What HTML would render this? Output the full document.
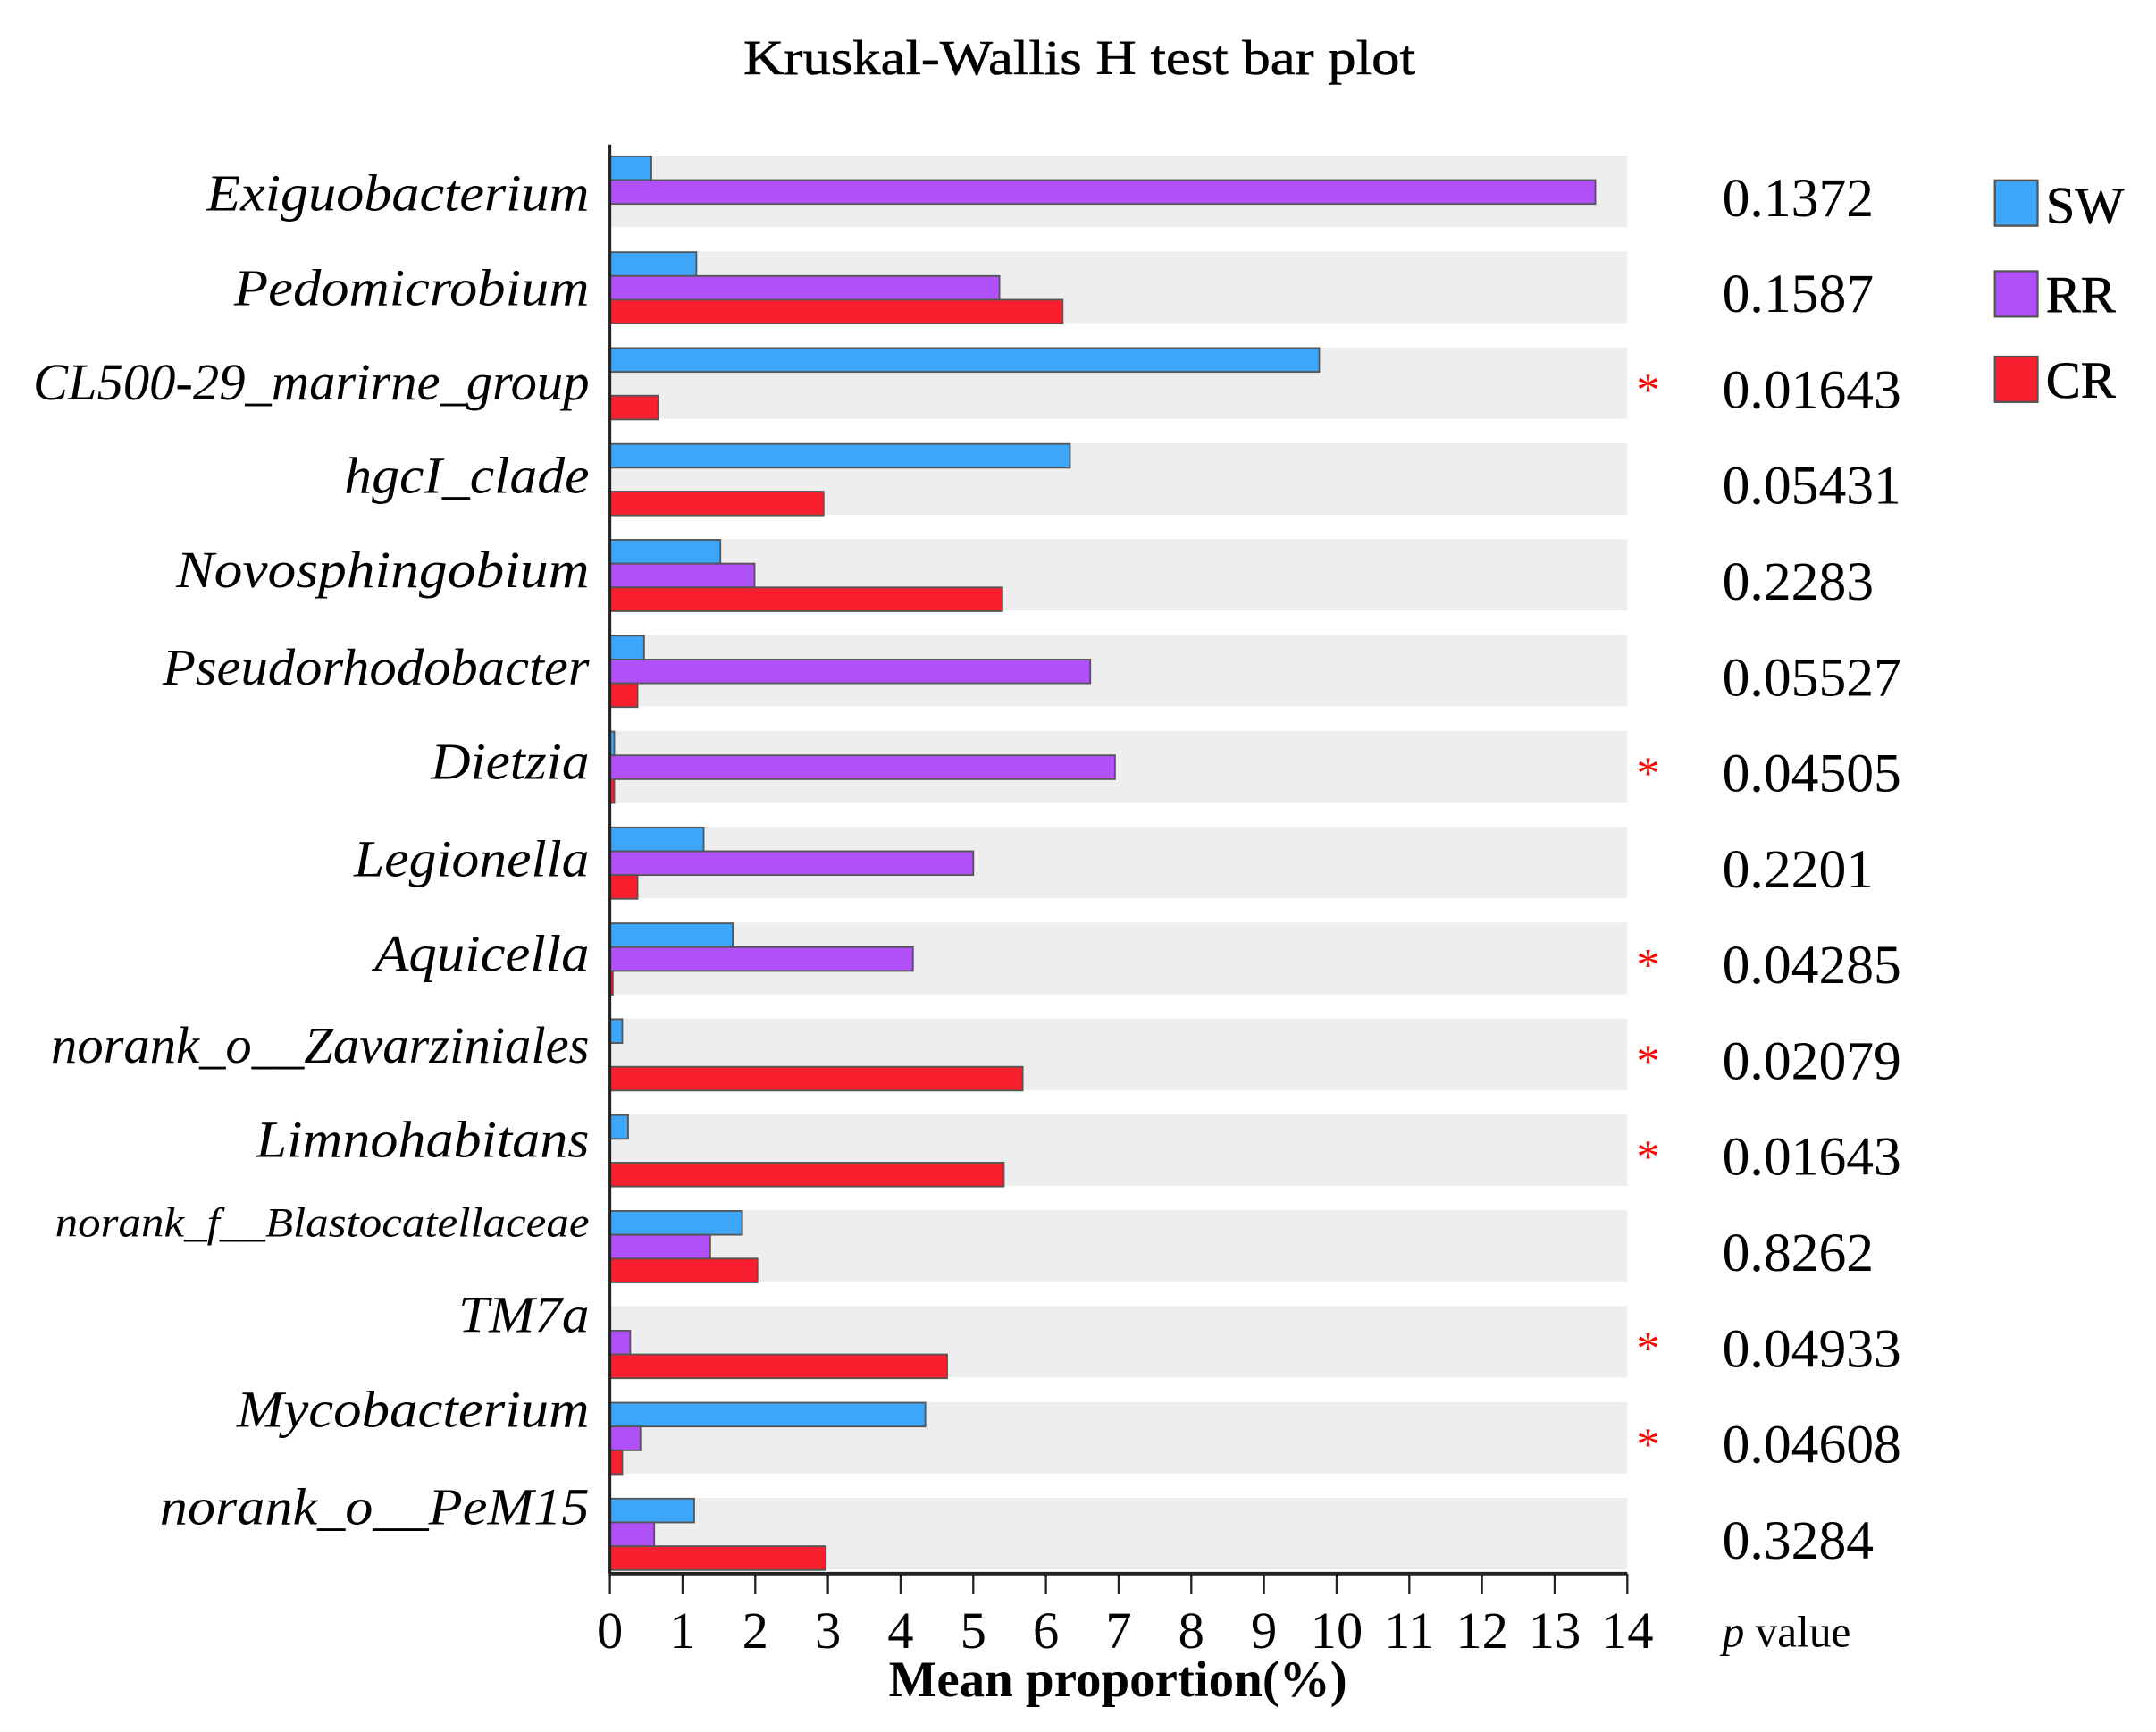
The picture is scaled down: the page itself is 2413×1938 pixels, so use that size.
<!DOCTYPE html>
<html><head><meta charset="utf-8"><style>
html,body{margin:0;padding:0;background:#fff;}
svg{display:block;}
</style></head><body>
<svg id="chart" width="2413" height="1938" viewBox="0 0 1566 1258" preserveAspectRatio="none" xmlns="http://www.w3.org/2000/svg" font-family="Liberation Serif, serif">
<text x="784" y="54" font-size="36" text-anchor="middle" textLength="488" lengthAdjust="spacingAndGlyphs" stroke="#000" stroke-width="0.4">Kruskal-Wallis H test bar plot</text>
<g id="bands"></g><g id="bars"></g><g id="labels"></g><g id="axis"></g>
<g>
<rect x="1449" y="131" width="31" height="33" fill="#3ea6f8" stroke="#555" stroke-width="1.5"/>
<text x="1486" y="162" font-size="38" stroke="#000" stroke-width="0.4">SW</text>
<rect x="1449" y="197" width="31" height="33" fill="#b050f8" stroke="#555" stroke-width="1.5"/>
<text x="1486" y="227" font-size="38" stroke="#000" stroke-width="0.4">RR</text>
<rect x="1449" y="259" width="31" height="33" fill="#f8202e" stroke="#555" stroke-width="1.5"/>
<text x="1486" y="289" font-size="38" stroke="#000" stroke-width="0.4">CR</text>
</g>
<text x="812" y="1232" font-size="37" font-weight="bold" text-anchor="middle" textLength="333" lengthAdjust="spacingAndGlyphs">Mean proportion(%)</text>
<text x="1251" y="1196" font-size="32"><tspan font-style="italic">p</tspan> value</text>
</svg>
<script>
const categories=["Exiguobacterium","Pedomicrobium","CL500-29_marirne_group","hgcI_clade","Novosphingobium","Pseudorhodobacter","Dietzia","Legionella","Aquicella","norank_o__Zavarziniales","Limnohabitans","norank_f__Blastocatellaceae","TM7a","Mycobacterium","norank_o__PeM15"];
const swValues=[0.57,1.19,9.76,6.33,1.52,0.47,0.06,1.29,1.69,0.17,0.25,1.82,0,4.34,1.16];
const rrValues=[13.56,5.36,0,0,1.99,6.61,6.95,5.0,4.17,0,0,1.38,0.28,0.42,0.61];
const crValues=[0,6.23,0.66,2.94,5.40,0.38,0.06,0.38,0.04,5.68,5.42,2.03,4.64,0.17,2.97];
const pValues=["0.1372","0.1587","0.01643","0.05431","0.2283","0.05527","0.04505","0.2201","0.04285","0.02079","0.01643","0.8262","0.04933","0.04608","0.3284"];
const significant=[false,false,true,false,false,false,true,false,true,true,true,false,true,true,false];
const tickLabels=[0,1,2,3,4,5,6,7,8,9,10,11,12,13,14];
const labelWidths=[278,258,404,178,300,310,115,171,156,391,242,388,95,256,312];
const labelBaseOffsets=[40,39,38,36,35,36,35,36,35,32,31,19,19,18,19];

const NS="http://www.w3.org/2000/svg";
const X0=443,X1=1182,XMAX=14,TOP=113,STEP=69.64,BAND=52,BARH=17.3;
const xs=v=>X0+(X1-X0)*v/XMAX;
const rowY=i=>TOP+i*STEP;
function mk(tag,attrs,parent,txt){const e=document.createElementNS(NS,tag);for(const k in attrs)e.setAttribute(k,attrs[k]);if(txt!==undefined)e.textContent=txt;parent.appendChild(e);return e;}
const gB=document.getElementById('bands'),gR=document.getElementById('bars'),gL=document.getElementById('labels'),gA=document.getElementById('axis');
const series=[["sw",swValues,"#3ea6f8"],["rr",rrValues,"#b050f8"],["cr",crValues,"#f8202e"]];
categories.forEach((c,i)=>{
  const y=rowY(i);
  const band=mk('rect',{x:X0,y:y,width:X1-X0,height:BAND,fill:'#eeeeee'},gB);
  
  
  series.forEach((s,j)=>{
    const v=s[1][i];
    if(v<=0)return;
    const r=mk('rect',{x:X0,y:y+0.5+j*BARH,width:Math.max(xs(v)-X0,1),height:BARH,fill:s[2],stroke:'#555',"stroke-width":1.2},gR);
    
    
  });
  const small=c==="norank_f__Blastocatellaceae";
  const t=mk('text',{x:428,y:y+labelBaseOffsets[i],"font-size":small?30:38,"font-style":"italic","text-anchor":"end",textLength:labelWidths[i],lengthAdjust:"spacingAndGlyphs"},gL,c);
  
  
  const p=mk('text',{x:1251,y:y+44,"font-size":40},gL,pValues[i]);
  
  
  if(significant[i]){
    const st=mk('text',{x:1197,y:y+42,"font-size":34,fill:'#f00',"text-anchor":"middle"},gL,'*');
    
    
  }
});
const yl=mk('line',{x1:X0,y1:105,x2:X0,y2:1143,stroke:'#222',"stroke-width":2},gA);


const xl=mk('line',{x1:X0,y1:1143,x2:X1,y2:1143,stroke:'#222',"stroke-width":2.5},gA);


tickLabels.forEach(v=>{
  const tk=mk('line',{x1:xs(v),y1:1143,x2:xs(v),y2:1158,stroke:'#222',"stroke-width":1.5},gA);
  
  
  const tl=mk('text',{x:xs(v),y:1197,"font-size":38,"text-anchor":"middle"},gA,String(v));
  
  
});
</script>
</body></html>
